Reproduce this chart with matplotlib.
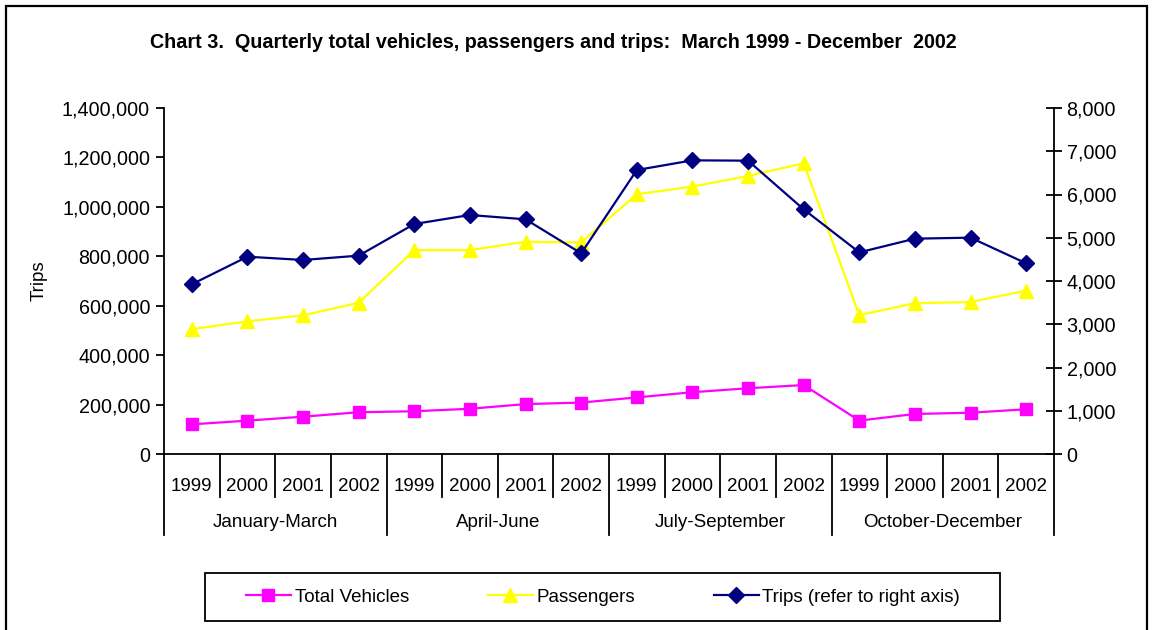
import matplotlib
matplotlib.use("Agg")
import matplotlib.pyplot as plt
from matplotlib.ticker import FuncFormatter
from matplotlib.patches import Rectangle
from matplotlib.lines import Line2D

plt.rcParams['font.family'] = ['Liberation Sans', 'DejaVu Sans']

quarters = ["January-March", "April-June", "July-September", "October-December"]
years = ["1999", "2000", "2001", "2002"]

# left axis
vehicles = [120000, 135000, 151000, 169000, 173000, 183000, 202000, 208000,
            229000, 250000, 266000, 279000, 135000, 162000, 167000, 181000]
passengers = [505000, 537000, 561000, 612000, 825000, 825000, 859000, 856000,
              1051000, 1082000, 1125000, 1176000, 562000, 610000, 615000, 661000]
# right axis
trips = [3924, 4562, 4486, 4586, 5318, 5526, 5426, 4640,
         6566, 6790, 6782, 5657, 4662, 4979, 5002, 4408]

labels = [y for q in quarters for y in years]
x = list(range(len(labels)))

fig = plt.figure(figsize=(11.52, 6.3), dpi=100)
ax = fig.add_axes([164 / 1152, 1 - 454 / 630, 890 / 1152, 346 / 630])
ax2 = ax.twinx()

fs = 13.5
tfs = 14.2
lw = 1.3

l1, = ax.plot(x, vehicles, color="#FF00FF", marker="s", markersize=9, linewidth=1.6,
              label="Total Vehicles", clip_on=False)
l2, = ax.plot(x, passengers, color="#FFFF00", marker="^", markersize=10, linewidth=1.6,
              label="Passengers", clip_on=False)
l3, = ax2.plot(x, trips, color="#000080", marker="D", markersize=8, linewidth=1.6,
               label="Trips (refer to right axis)", clip_on=False)

ax.set_xlim(-0.5, len(labels) - 0.5)
ax.set_ylim(0, 1400000)
ax.set_yticks(range(0, 1400001, 200000))
ax2.set_ylim(0, 8000)
ax2.set_yticks(range(0, 8001, 1000))

ax.yaxis.set_major_formatter(FuncFormatter(lambda v, p: f"{int(v):,}"))
ax2.yaxis.set_major_formatter(FuncFormatter(lambda v, p: f"{int(v):,}"))

for a in (ax, ax2):
    a.spines['top'].set_visible(False)
    for s in a.spines.values():
        s.set_linewidth(lw)
ax.spines['right'].set_visible(False)
ax2.spines['left'].set_visible(False)
ax2.spines['bottom'].set_visible(False)

ax.tick_params(axis='y', direction='out', length=6, width=lw, labelsize=tfs, pad=4)
ax2.tick_params(axis='y', direction='inout', length=12, width=lw, labelsize=tfs, pad=3)

# two-level category axis
ax.set_xticks(x)
ax.set_xticklabels(labels, fontsize=fs)
ax.tick_params(axis='x', length=0, pad=17)

tr = ax.get_xaxis_transform()
for i in range(len(labels) + 1):
    bottom = -0.234 if i % 4 == 0 else -0.124
    ax.add_line(Line2D([i - 0.5, i - 0.5], [0, bottom], transform=tr, color="black",
                       linewidth=lw, clip_on=False))
for k, q in enumerate(quarters):
    ax.text(k * 4 + 1.5, -0.197, q, transform=tr, ha="center", va="center", fontsize=fs)

ax.set_ylabel("Trips", fontsize=fs, labelpad=10)

fig.text(553 / 1152, 1 - 42 / 630,
         "Chart 3.  Quarterly total vehicles, passengers and trips:  March 1999 - December  2002",
         ha="center", va="center", fontsize=14.2, fontweight="bold")

leg = fig.legend(handles=[l1, l2, l3], loc="center", bbox_to_anchor=(603 / 1152, 1 - 597 / 630),
                 ncol=3, fontsize=fs, frameon=False, numpoints=1,
                 handlelength=2.4, handletextpad=0.2, columnspacing=4.2,
                 borderpad=0, borderaxespad=0)
fig.patches.append(Rectangle((205 / 1152, 1 - 621 / 630), 795 / 1152, 48 / 630,
                             transform=fig.transFigure, fill=False, edgecolor="black",
                             linewidth=lw))

fig.patches.append(Rectangle((6 / 1152, -0.05), 1141 / 1152, 1.05 - 6 / 630,
                             transform=fig.transFigure, fill=False, edgecolor="black",
                             linewidth=1.6))

fig.savefig("out.png", dpi=100)
